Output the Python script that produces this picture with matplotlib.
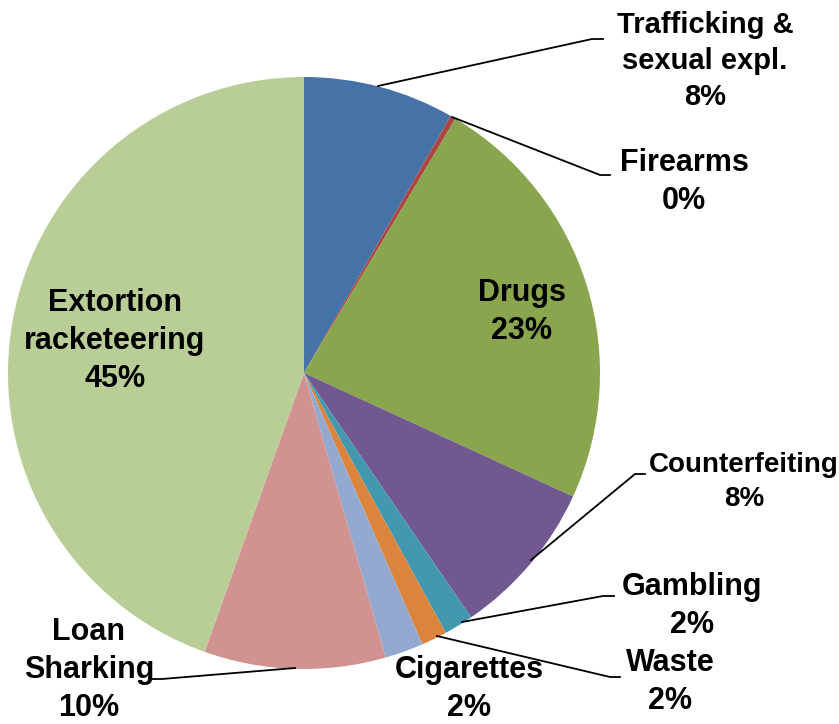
import matplotlib.pyplot as plt

labels = ['Trafficking &\nsexual expl.', 'Firearms', 'Drugs', 'Counterfeiting',
          'Gambling', 'Waste', 'Cigarettes', 'Loan\nSharking',
          'Extortion\nracketeering']
shares = [8.25, 0.3, 23.3, 8.6, 1.6, 1.4, 2.1, 9.9, 44.55]
pct_text = ['8%', '0%', '23%', '8%', '2%', '2%', '2%', '10%', '45%']
colors = ['#4572A7', '#AA4643', '#89A54E', '#71588F', '#4198AF',
          '#DB843D', '#93A9CF', '#D19392', '#B9CD96']

H = 724
fig = plt.figure(figsize=(8.39, 7.24), dpi=100)
ax = fig.add_axes((0, 0, 1, 1))

ax.pie(shares, colors=colors, startangle=90, counterclock=False,
       center=(304, H - 373), radius=296, frame=True,
       wedgeprops=dict(linewidth=0))
ax.set_xlim(0, 839)
ax.set_ylim(0, H)
ax.axis('off')

# label positions (pixels from top-left) and leader lines
label_pos = [(705, 61), (684, 182), (522, 312), (744, 482), (692, 606),
             (670, 682), (469, 689), (89, 670), (115, 341)]
sizes = [21, 22, 22, 20, 22, 22, 22, 22, 22]
leaders = {
    0: [(378, 86), (592, 39), (603, 39)],
    1: [(452, 117), (600, 175), (610, 175)],
    3: [(531, 560), (635, 474), (645, 474)],
    4: [(462, 622), (603, 596), (614, 596)],
    5: [(437, 636), (610, 677), (620, 677)],
    7: [(295, 668), (162, 679), (150, 679)],
}

font = dict(family=['Liberation Sans', 'DejaVu Sans'], weight='bold',
            ha='center', va='center', linespacing=1.35)
for i, (lab, pct) in enumerate(zip(labels, pct_text)):
    x, y = label_pos[i]
    ax.text(x, H - y, lab + '\n' + pct, fontsize=sizes[i], **font)

for i, pts in leaders.items():
    xs = [p[0] for p in pts]
    ys = [H - p[1] for p in pts]
    ax.plot(xs, ys, color='black', linewidth=1.3)

fig.savefig('out.png', dpi=100)
